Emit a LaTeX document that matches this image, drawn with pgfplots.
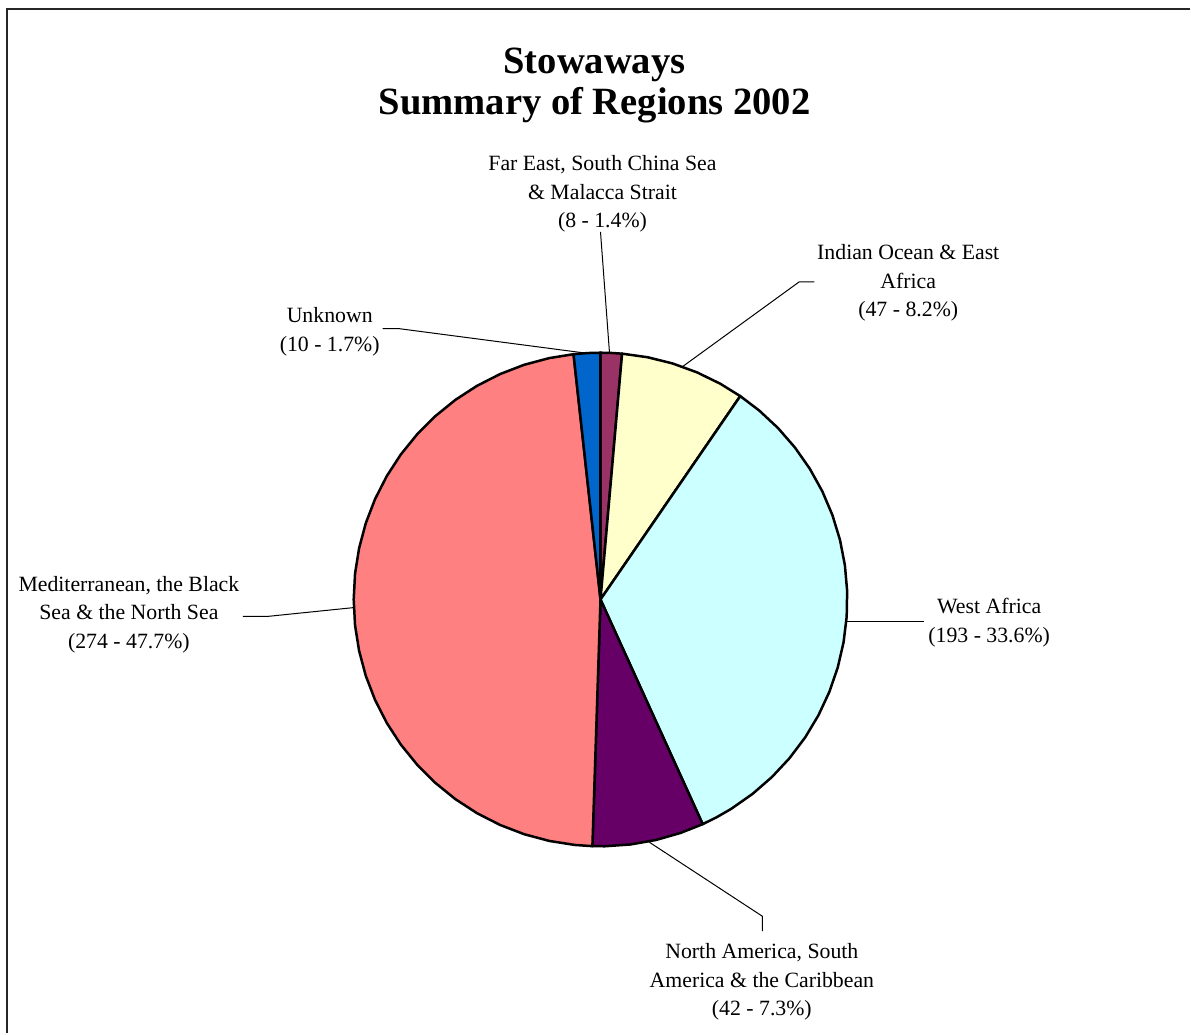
\documentclass[border=0pt]{standalone}
\usepackage{fontspec}
\setmainfont{Liberation Serif}
\usepackage{pgfplots}
\pgfplotsset{compat=1.18}
\definecolor{cFE}{HTML}{993366}
\definecolor{cIO}{HTML}{FFFFCC}
\definecolor{cWA}{HTML}{CCFFFF}
\definecolor{cNA}{HTML}{660066}
\definecolor{cMed}{HTML}{FF8080}
\definecolor{cUnk}{HTML}{0066CC}
% Stowaways by region, 2002 (total 574):
% Far East 8, Indian Ocean 47, West Africa 193, North America 42, Mediterranean 274, Unknown 10
% slice angles (deg, clockwise from 90): 8->5.017, 47->29.477, 193->121.045, 42->26.341, 274->171.847, 10->6.272
\begin{document}
\begin{tikzpicture}
\begin{axis}[
  x=0.5pt, y=0.5pt,
  anchor=origin, at={(0,0)},
  hide axis, clip=false,
  xmin=-601, xmax=590, ymin=-434, ymax=600,
]
\path (axis cs:-601,-434) rectangle (axis cs:590,600);
% frame
\draw[line width=1pt, black!85] (axis cs:-594,-434) -- (axis cs:-594,591) -- (axis cs:590,591);
% pie slices
\begin{scope}[line width=1.25pt, line join=round]
\addplot[fill=cFE, draw=black, data cs=polar] coordinates {(0,0) (90,247) (87.5,247) (84.983,247)} -- cycle;
\addplot[fill=cIO, draw=black, data cs=polar] coordinates {(0,0) (84.983,247) (79,247) (73,247) (67,247) (61,247) (55.505,247)} -- cycle;
\addplot[fill=cWA, draw=black, data cs=polar] coordinates {(0,0) (55.505,247) (50,247) (44,247) (38,247) (32,247) (26,247) (20,247) (14,247) (8,247) (2,247) (-4,247) (-10,247) (-16,247) (-22,247) (-28,247) (-34,247) (-40,247) (-46,247) (-52,247) (-58,247) (-62,247) (-65.540,247)} -- cycle;
\addplot[fill=cNA, draw=black, data cs=polar] coordinates {(0,0) (-65.540,247) (-71,247) (-77,247) (-83,247) (-89,247) (-91.882,247)} -- cycle;
\addplot[fill=cMed, draw=black, data cs=polar] coordinates {(0,0) (-91.882,247) (-96,247) (-102,247) (-108,247) (-114,247) (-120,247) (-126,247) (-132,247) (-138,247) (-144,247) (-150,247) (-156,247) (-162,247) (-168,247) (-174,247) (-180,247) (-186,247) (-192,247) (-198,247) (-204,247) (-210,247) (-216,247) (-222,247) (-228,247) (-234,247) (-240,247) (-246,247) (-252,247) (-258,247) (-263.728,247)} -- cycle;
\addplot[fill=cUnk, draw=black, data cs=polar] coordinates {(0,0) (-263.728,247) (-267,247) (-270,247)} -- cycle;
\end{scope}
% leader lines
\addplot[black, line width=0.5pt] coordinates {(0,368) (9,247)};
\addplot[black, line width=0.5pt] coordinates {(82,233) (199,318) (214,318)};
\addplot[black, line width=0.5pt] coordinates {(-218,271) (-201,271) (-18,247)};
\addplot[black, line width=0.5pt] coordinates {(-358,-17) (-334,-17) (-246,-8)};
\addplot[black, line width=0.5pt] coordinates {(246,-22) (324,-22)};
\addplot[black, line width=0.5pt] coordinates {(49,-243) (162,-317) (162,-332)};
% labels
\begin{scope}[every node/.style={align=center, inner sep=0pt, font=\fontsize{10.9}{14.25}\selectfont}]
\node at (axis cs:2,406) {Far East, South China Sea\\\& Malacca Strait\\(8 - 1.4\%)};
\node at (axis cs:308,317) {Indian Ocean \& East\\Africa\\(47 - 8.2\%)};
\node at (axis cs:-271,268) {Unknown\\(10 - 1.7\%)};
\node at (axis cs:-472,-15) {Mediterranean, the Black\\Sea \& the North Sea\\(274 - 47.7\%)};
\node at (axis cs:389,-23) {West Africa\\(193 - 33.6\%)};
\node at (axis cs:161.5,-383) {North America, South\\America \& the Caribbean\\(42 - 7.3\%)};
\end{scope}
\node[align=center, inner sep=0pt, font=\fontsize{19.3}{20.5}\selectfont\bfseries] at (axis cs:-6,514) {Stowaways\\Summary of Regions 2002};
\end{axis}
\end{tikzpicture}
\end{document}
